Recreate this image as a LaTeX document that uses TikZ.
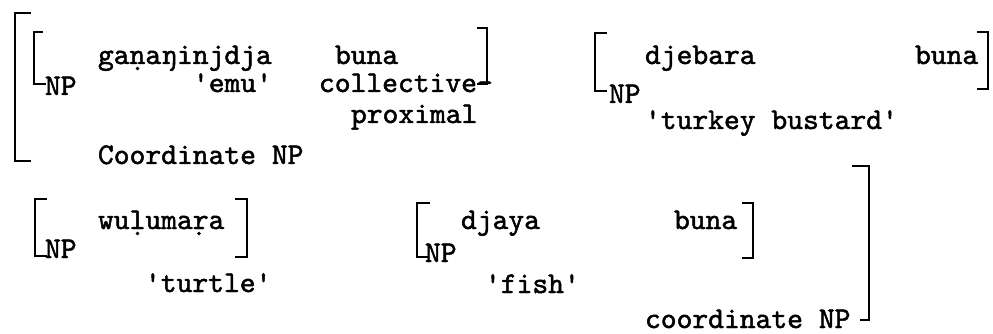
\documentclass[tikz,border=0pt]{standalone}
\usepackage{fontspec}
\newfontfamily\tw{lmmono10-regular.otf}[FakeBold=1.6]
\begin{document}
\begin{tikzpicture}[x=1pt,y=-1pt,
  txt/.style={anchor=base west,inner sep=0pt,outer sep=0pt,
    font=\tw\fontsize{30.1}{34}\selectfont},
  brk/.style={line width=2pt,line cap=butt,line join=miter}]
\useasboundingbox (0,0) rectangle (993,334);

% ---- first coordinate NP ----
\draw[brk] (31,13) -- (15,13) -- (15,161) -- (31,161);
\draw[brk] (43,32) -- (34,32) -- (34,84) -- (46,84);
\node[txt] (np1) at (45,95) {NP};
\node[txt] (w1) at (98,64) {gaṇaŋinjdja};
\node[txt] (g1) at (193,92) {'emu'};
\node[txt] (w2) at (335,64) {buna};
\node[txt] (g2) at (319,92) {collective-};
\node[txt] (g2b) at (351,123) {proximal};
\draw[brk] (477,28) -- (487,28) -- (487,84) -- (477,84);
\node[txt] (lab1) at (98,164) {Coordinate NP};

\draw[brk] (607,33) -- (595,33) -- (595,91) -- (607,91);
\node[txt] (np2) at (609,103) {NP};
\node[txt] (w3) at (645,64) {djebara};
\node[txt] (g3) at (645,129) {'turkey bustard'};
\node[txt] (w4) at (915,64) {buna};
\draw[brk] (977,32) -- (988,32) -- (988,89) -- (977,89);

% ---- second coordinate NP ----
\draw[brk] (47,199) -- (35,199) -- (35,256) -- (47,256);
\node[txt] (np3) at (45,258) {NP};
\node[txt] (w5) at (98,229) {wuḷumaṛa};
\node[txt] (g5) at (145,292) {'turtle'};
\draw[brk] (235,199) -- (247,199) -- (247,257) -- (235,257);

\draw[brk] (430,203) -- (417,203) -- (417,257) -- (428,257);
\node[txt] (np4) at (425,262) {NP};
\node[txt] (w6) at (461,229) {djaya};
\node[txt] (g6) at (485,293) {'fish'};
\node[txt] (w7) at (674,229) {buna};
\draw[brk] (742,203) -- (753,203) -- (753,258) -- (742,258);

\draw[brk] (852,166) -- (869,166) -- (869,320) -- (860,320);
\node[txt] (lab2) at (645,328) {coordinate NP};
\end{tikzpicture}
\end{document}
